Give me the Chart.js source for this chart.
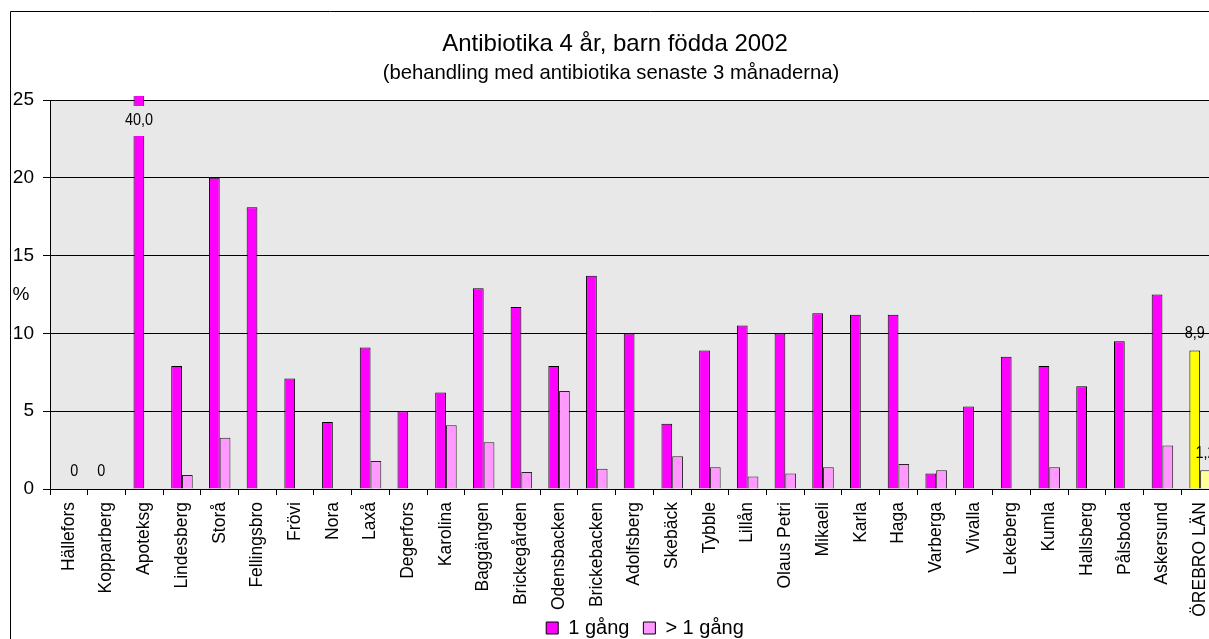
<!DOCTYPE html>
<html>
<head>
<meta charset="utf-8">
<script src="https://cdn.jsdelivr.net/npm/chart.js@4.4.1/dist/chart.umd.min.js"></script>
<style>
  html, body { margin: 0; padding: 0; background: #fff; overflow: hidden; }
  #frame { position: relative; width: 1209px; height: 639px; overflow: hidden; background: #fff; }
  #c { position: absolute; left: 0; top: 0; }
</style>
</head>
<body>
<div id="frame"><canvas id="c" width="1290" height="660"></canvas></div>
<script>
// ---- data ----
const categories = ['Hällefors', 'Kopparberg', 'Apoteksg', 'Lindesberg', 'Storå', 'Fellingsbro', 'Frövi',
  'Nora', 'Laxå', 'Degerfors', 'Karolina', 'Baggängen', 'Brickegården', 'Odensbacken', 'Brickebacken',
  'Adolfsberg', 'Skebäck', 'Tybble', 'Lillån', 'Olaus Petri', 'Mikaeli', 'Karla', 'Haga', 'Varberga',
  'Vivalla', 'Lekeberg', 'Kumla', 'Hallsberg', 'Pålsboda', 'Askersund', 'ÖREBRO LÄN'];

// share of children treated once (%)
const onceValues = [0, 0, 40.0, 7.9, 20.0, 18.1, 7.1, 4.3, 9.1, 5.0, 6.2, 12.9, 11.7, 7.9, 13.7,
  10.0, 4.2, 8.9, 10.5, 10.0, 11.3, 11.2, 11.2, 1.0, 5.3, 8.5, 7.9, 6.6, 9.5, 12.5, 8.9];

// share of children treated more than once (%)
const moreValues = [0, 0, null, 0.9, 3.3, null, null, null, 1.8, null, 4.1, 3.0, 1.1, 6.3, 1.3,
  null, 2.1, 1.4, 0.8, 1.0, 1.4, null, 1.6, 1.2, null, null, 1.4, null, null, 2.8, 1.2];

const yTicks = [0, 5, 10, 15, 20, 25];
const seriesNames = ['1 gång', '> 1 gång'];
const titleText = 'Antibiotika 4 år, barn födda 2002';
const subtitleText = '(behandling med antibiotika senaste 3 månaderna)';
const yUnit = '%';
const totalCategory = 'ÖREBRO LÄN';

// bars that carry a printed value: [series index, category]
const labelledPoints = [[1, 'Hällefors'], [0, 'Kopparberg'], [0, 'Apoteksg'], [0, 'ÖREBRO LÄN'], [1, 'ÖREBRO LÄN']];

// ---- styling ----
const FONT = '"Liberation Sans", Arial, Helvetica, sans-serif';
const MAGENTA = '#FF00FF';
const PINK = '#FF99FF';
const YELLOW = '#FFFF00';
const PALE_YELLOW = '#FFFF99';
const PLOT_BG = '#E8E8E8';

const isTotal = (ctx) => categories[ctx.dataIndex] === totalCategory;
const fmt = (v) => (v === 0 ? '0' : v.toFixed(1).replace('.', ','));

// grey plot area behind the bars
const plotBackground = {
  id: 'plotBackground',
  beforeDraw(chart) {
    const a = chart.chartArea, ctx = chart.ctx;
    ctx.save();
    ctx.fillStyle = PLOT_BG;
    ctx.fillRect(a.left, a.top, a.right - a.left, a.bottom - a.top);
    ctx.restore();
  }
};

// outer chart border plus the two heading lines and the unit text
const headings = {
  id: 'headings',
  afterDraw(chart) {
    const ctx = chart.ctx;
    ctx.save();
    ctx.strokeStyle = '#000';
    ctx.lineWidth = 1;
    ctx.beginPath();
    ctx.moveTo(10.5, chart.height);
    ctx.lineTo(10.5, 11.5);
    ctx.lineTo(chart.width, 11.5);
    ctx.stroke();

    ctx.fillStyle = '#000';
    ctx.textAlign = 'center';
    ctx.textBaseline = 'alphabetic';
    ctx.font = '24px ' + FONT;
    ctx.fillText(titleText, 615, 51);
    ctx.font = '20.3px ' + FONT;
    ctx.fillText(subtitleText, 611, 79);
    ctx.textBaseline = 'middle';
    ctx.font = '19px ' + FONT;
    ctx.fillText(yUnit, 21, 295);
    ctx.restore();
  }
};

// printed values above selected bars (slightly condensed type); values above
// the axis maximum are written inside the cut-off bar on a plot-coloured patch
const valueLabels = {
  id: 'valueLabels',
  afterDatasetsDraw(chart) {
    const ctx = chart.ctx, a = chart.chartArea, yScale = chart.scales.y;
    const write = (text, x, y) => {
      ctx.save();
      ctx.translate(x, y);
      ctx.scale(0.9, 1);
      ctx.fillText(text, 0, 0);
      ctx.restore();
    };
    ctx.save();
    ctx.font = '16px ' + FONT;
    ctx.fillStyle = '#000';
    ctx.textAlign = 'center';
    ctx.textBaseline = 'middle';
    labelledPoints.forEach(([ds, cat]) => {
      const i = categories.indexOf(cat);
      const v = chart.data.datasets[ds].data[i];
      const el = chart.getDatasetMeta(ds).data[i];
      if (v == null || !el) return;
      if (v > yScale.max) {
        ctx.fillStyle = PLOT_BG;
        ctx.fillRect(el.x - 16, a.top + 6, 32, 30);
        ctx.fillStyle = '#000';
        write(fmt(v), el.x, a.top + 21);
      } else {
        write(fmt(v), el.x, el.y - 17);
      }
    });
    ctx.restore();
  }
};

new Chart(document.getElementById('c'), {
  type: 'bar',
  data: {
    labels: categories,
    datasets: [
      {
        label: seriesNames[0],
        data: onceValues,
        backgroundColor: (ctx) => (isTotal(ctx) ? YELLOW : MAGENTA),
        borderColor: '#000',
        borderWidth: 1,
        borderSkipped: 'bottom',
        clip: { left: 0, top: 4, right: 0, bottom: 0 }
      },
      {
        label: seriesNames[1],
        data: moreValues,
        backgroundColor: (ctx) => (isTotal(ctx) ? PALE_YELLOW : PINK),
        borderColor: '#222',
        borderWidth: 1,
        borderSkipped: 'bottom',
        clip: { left: 0, top: 4, right: 0, bottom: 0 }
      }
    ]
  },
  options: {
    responsive: false,
    devicePixelRatio: 1,
    animation: false,
    events: [],
    layout: { padding: { left: 0, top: 100, right: 0, bottom: 12 } },
    datasets: { bar: { categoryPercentage: 0.57, barPercentage: 1 } },
    scales: {
      x: {
        grid: { display: true, drawOnChartArea: false, drawTicks: true, tickLength: 6, color: '#000', offset: true },
        border: { display: true, color: '#000', width: 1 },
        ticks: {
          autoSkip: false, minRotation: 90, maxRotation: 90, padding: 7,
          color: '#000', font: { family: FONT, size: 17.5 }
        },
        afterFit: (s) => { s.height = 115; },
        // the long category names may run down beside the legend, so they are not clipped to the axis box
        afterUpdate: (s) => { s._computeLabelArea = () => undefined; }
      },
      y: {
        position: 'left',
        min: 0, max: 25,
        afterBuildTicks: (s) => { s.ticks = yTicks.map((v) => ({ value: v })); },
        grid: { color: '#000', lineWidth: 1, tickLength: 7, drawTicks: true },
        border: { display: true, color: '#000', width: 1 },
        ticks: { color: '#000', padding: 9, font: { family: FONT, size: 19 } },
        afterFit: (s) => { s.width = 50; }
      },
      gutter: {
        position: 'right',
        display: true,
        grid: { display: false, drawTicks: false },
        border: { display: false },
        ticks: { display: false },
        afterFit: (s) => { s.width = 71; }
      }
    },
    plugins: {
      title: { display: false },
      tooltip: { enabled: false },
      legend: {
        position: 'bottom',
        labels: {
          color: '#000',
          font: { family: FONT, size: 20 },
          boxWidth: 12,
          boxHeight: 12,
          padding: 14,
          generateLabels: () => seriesNames.map((name, i) => ({
            text: name,
            fillStyle: i === 0 ? MAGENTA : PINK,
            strokeStyle: '#000',
            lineWidth: 1,
            hidden: false,
            datasetIndex: i,
            fontColor: '#000'
          }))
        }
      }
    }
  },
  plugins: [plotBackground, valueLabels, headings]
});
</script>
</body>
</html>
